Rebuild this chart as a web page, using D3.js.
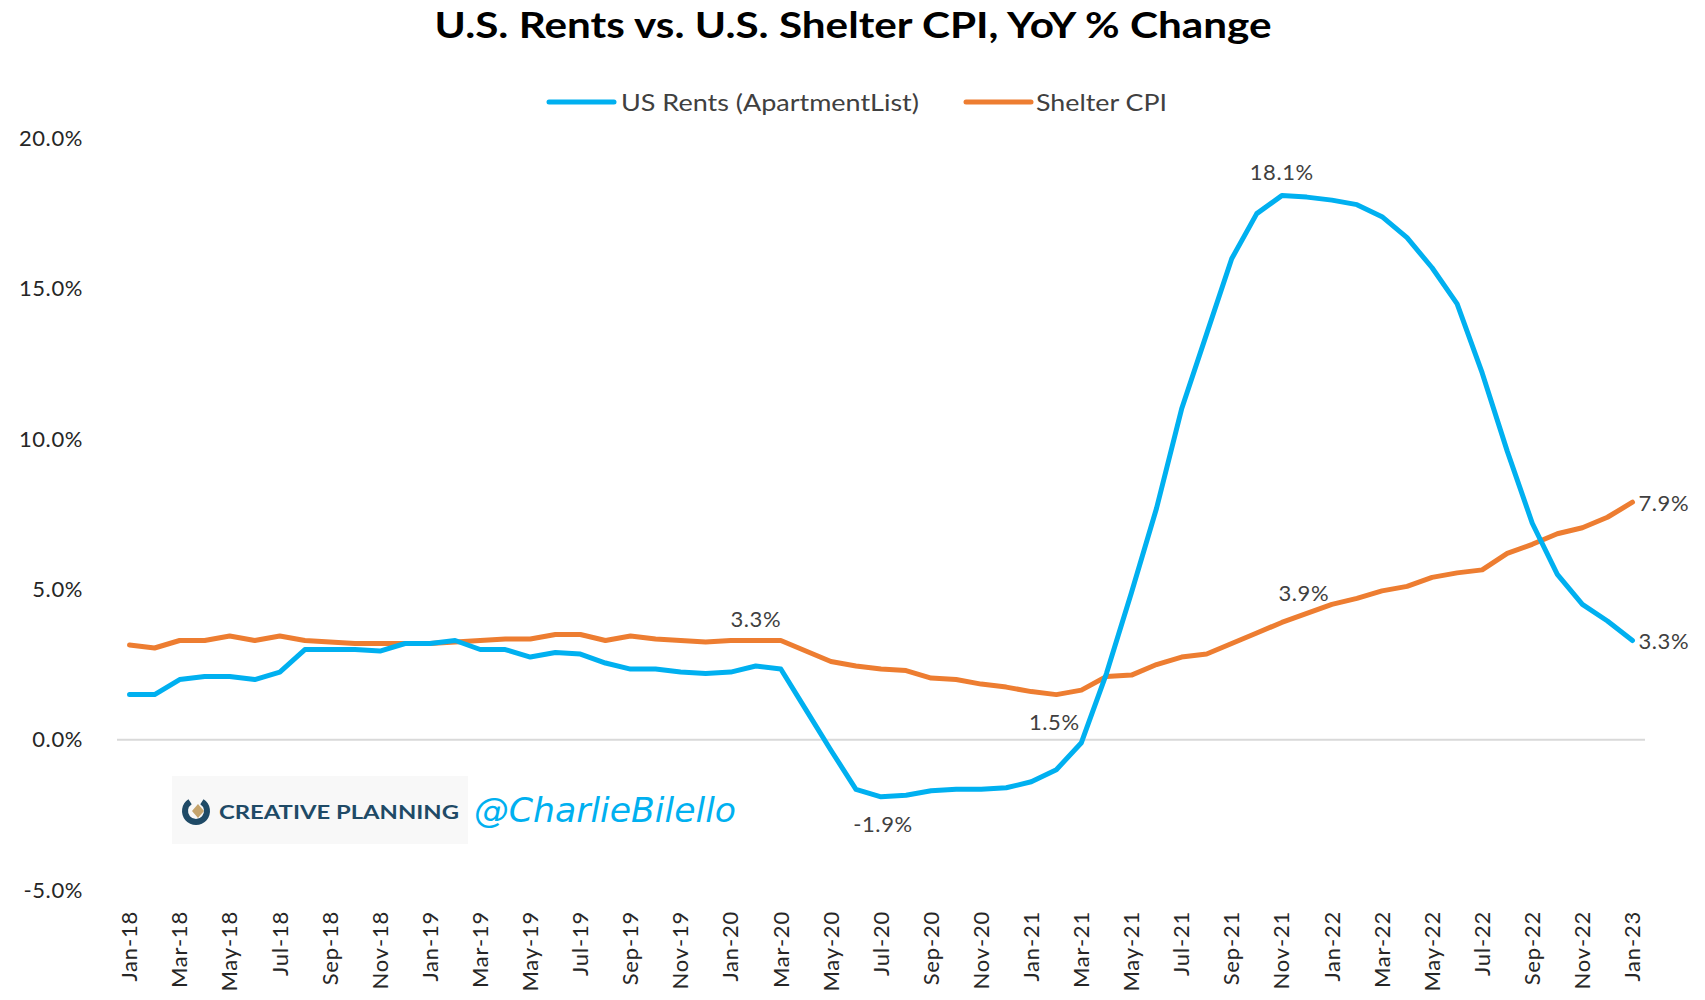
<!DOCTYPE html>
<html>
<head>
<meta charset="utf-8">
<script src="https://cdn.jsdelivr.net/npm/d3@7"></script>
<style>
  html, body { margin: 0; padding: 0; background: #fff; }
  svg { display: block; }
  text { font-family: Lato, "Open Sans", sans-serif; }
</style>
</head>
<body>
<div id="chart"></div>
<script>
/* ---- Data (YoY % change, monthly Jan-18 .. Jan-23) ---- */
const MONTHS = ['Jan','Feb','Mar','Apr','May','Jun','Jul','Aug','Sep','Oct','Nov','Dec'];
const DATES = [];
for (let yr = 18; yr <= 23; yr++) {
  MONTHS.forEach(m => { if (DATES.length < 61) DATES.push(m + '-' + yr); });
}

const RENTS = [
  1.5, 1.5, 2.0, 2.1, 2.1, 2.0, 2.25, 3.0, 3.0, 3.0, 2.95, 3.2,
  3.2, 3.3, 3.0, 3.0, 2.75, 2.9, 2.85, 2.55, 2.35, 2.35, 2.25, 2.2,
  2.25, 2.45, 2.35, 1.0, -0.35, -1.65, -1.9, -1.85, -1.7, -1.65, -1.65, -1.6,
  -1.4, -1.0, -0.1, 2.2, 4.9, 7.7, 11.0, 13.5, 16.0, 17.5, 18.1, 18.05,
  17.95, 17.8, 17.4, 16.7, 15.7, 14.5, 12.2, 9.6, 7.2, 5.5, 4.5, 3.95,
  3.3
];

const SHELTER = [
  3.15, 3.05, 3.3, 3.3, 3.45, 3.3, 3.45, 3.3, 3.25, 3.2, 3.2, 3.2,
  3.2, 3.25, 3.3, 3.35, 3.35, 3.5, 3.5, 3.3, 3.45, 3.35, 3.3, 3.25,
  3.3, 3.3, 3.3, 2.95, 2.6, 2.45, 2.35, 2.3, 2.05, 2.0, 1.85, 1.75,
  1.6, 1.5, 1.65, 2.1, 2.15, 2.5, 2.75, 2.85, 3.2, 3.55, 3.9, 4.2,
  4.5, 4.7, 4.95, 5.1, 5.4, 5.55, 5.65, 6.2, 6.5, 6.85, 7.05, 7.4,
  7.9
];

const Y_TICKS = [-5, 0, 5, 10, 15, 20];

const SERIES = [
  { name: 'US Rents (ApartmentList)', values: RENTS,   color: '#00b0f0' },
  { name: 'Shelter CPI',              values: SHELTER, color: '#ed7d31' }
];

// data labels: which point, and where the label sits relative to it
const LABELS = [
  { s: 0, i: 46, pos: 'above', dy: -4 },
  { s: 0, i: 30, pos: 'below', dx: 2 },
  { s: 0, i: 60, pos: 'right' },
  { s: 1, i: 25, pos: 'above', dy: -2 },
  { s: 1, i: 37, pos: 'below', dx: -2 },
  { s: 1, i: 46, pos: 'above', dx: 22, dy: -10 },
  { s: 1, i: 60, pos: 'right' }
];

/* ---- Layout ---- */
const W = 1705, H = 1000;
const PLOT = { left: 117, right: 1645, top: 138.5, bottom: 890 };

const svg = d3.select('#chart').append('svg')
  .attr('width', W).attr('height', H);

const x = d3.scaleBand().domain(DATES).range([PLOT.left, PLOT.right]).paddingInner(0);
const xc = d => x(d) + x.bandwidth() / 2;
const y = d3.scaleLinear().domain([-5, 20]).range([PLOT.bottom, PLOT.top]);
// plain hyphen for negatives, like the original
const pct = d3.formatLocale({ decimal: '.', thousands: ',', grouping: [3], currency: ['$', ''], minus: '-' })
  .format('.1f');

/* ---- Title ---- */
svg.append('text')
  .attr('x', 853).attr('y', 38)
  .attr('text-anchor', 'middle')
  .attr('textLength', 837).attr('lengthAdjust', 'spacingAndGlyphs')
  .style('font-size', '37px').style('font-weight', '700').style('fill', '#000')
  .text('U.S. Rents vs. U.S. Shelter CPI, YoY % Change');

/* ---- Legend ---- */
const legendPos = [{ x: 549, tx: 621, tw: 298 }, { x: 966, tx: 1036, tw: 131 }];
const legend = svg.append('g').attr('class', 'legend');
SERIES.forEach((s, k) => {
  const p = legendPos[k];
  legend.append('line')
    .attr('x1', p.x).attr('x2', p.x + 65)
    .attr('y1', 102).attr('y2', 102)
    .attr('stroke', s.color).attr('stroke-width', 5).attr('stroke-linecap', 'round');
  legend.append('text')
    .attr('x', p.tx).attr('y', 102)
    .attr('dominant-baseline', 'central')
    .attr('textLength', p.tw).attr('lengthAdjust', 'spacingAndGlyphs')
    .style('font-size', '23px').style('fill', '#404040')
    .text(s.name);
});

/* ---- Y axis (labels only) ---- */
const yAxis = d3.axisLeft(y).tickValues(Y_TICKS).tickSize(0).tickPadding(0)
  .tickFormat(d => pct(d) + '%');
svg.append('g')
  .attr('transform', `translate(${83},0)`)
  .call(yAxis)
  .call(g => g.select('.domain').remove())
  .call(g => g.selectAll('text')
    .style('font-size', '22px').style('fill', '#262626')
    .style('font-family', 'Lato, sans-serif').style('letter-spacing', '0.6px'));

/* ---- Zero line ---- */
svg.append('line')
  .attr('x1', PLOT.left).attr('x2', PLOT.right)
  .attr('y1', y(0)).attr('y2', y(0))
  .attr('stroke', '#d9d9d9').attr('stroke-width', 2);

/* ---- X axis (every second month) ---- */
const xAxis = d3.axisBottom(x)
  .tickValues(DATES.filter((d, i) => i % 2 === 0))
  .tickSize(0).tickPadding(0);
svg.append('g')
  .attr('transform', `translate(0,${911})`)
  .call(xAxis)
  .call(g => g.select('.domain').remove())
  .call(g => g.selectAll('text')
    .attr('transform', 'rotate(-90)')
    .attr('x', 0).attr('y', 0).attr('dy', '0.35em')
    .attr('text-anchor', 'end')
    .style('font-size', '22px').style('fill', '#262626')
    .style('font-family', 'Lato, sans-serif').style('letter-spacing', '0.8px'));

/* ---- Watermark ---- */
const wm = svg.append('g').attr('class', 'watermark');
wm.append('rect').attr('x', 172).attr('y', 776).attr('width', 296).attr('height', 68)
  .attr('fill', '#f8f8f8');
wm.append('path')
  .attr('d', d3.arc()({ innerRadius: 8, outerRadius: 14, startAngle: Math.PI * 0.18, endAngle: Math.PI * 1.82 }))
  .attr('transform', 'translate(196,811)')
  .attr('fill', '#1f4a66');
wm.append('path')
  .attr('d', 'M0,-7 L6,0 L0,7 L-6,0 Z')
  .attr('transform', 'translate(198,811)')
  .attr('fill', '#c5a46d');
wm.append('text')
  .attr('x', 219).attr('y', 811)
  .attr('dominant-baseline', 'central')
  .attr('textLength', 240).attr('lengthAdjust', 'spacingAndGlyphs')
  .style('font-size', '19px').style('font-weight', '700').style('fill', '#1f4a66')
  .text('CREATIVE PLANNING');
wm.append('text')
  .attr('x', 474).attr('y', 810)
  .attr('dominant-baseline', 'central')
  .attr('textLength', 262).attr('lengthAdjust', 'spacingAndGlyphs')
  .style('font-size', '34px').style('font-style', 'italic').style('fill', '#00b0f0')
  .style('font-family', '"DejaVu Sans", sans-serif')
  .text('@CharlieBilello');

/* ---- Lines ---- */
const line = d3.line()
  .x((v, i) => xc(DATES[i]))
  .y(v => y(v));

svg.append('g').attr('class', 'lines')
  .selectAll('path')
  .data(SERIES.slice().reverse())
  .join('path')
    .attr('d', s => line(s.values))
    .attr('fill', 'none')
    .attr('stroke', s => s.color)
    .attr('stroke-width', 5)
    .attr('stroke-linejoin', 'round')
    .attr('stroke-linecap', 'round');

/* ---- Data labels ---- */
svg.append('g').attr('class', 'data-labels')
  .selectAll('text')
  .data(LABELS)
  .join('text')
    .attr('x', d => {
      const px = xc(DATES[d.i]) + (d.dx || 0);
      return d.pos === 'right' ? px + 6 : px;
    })
    .attr('y', d => {
      const py = y(SERIES[d.s].values[d.i]) + (d.dy || 0);
      if (d.pos === 'above') return py - 20;
      if (d.pos === 'below') return py + 27;
      return py;
    })
    .attr('text-anchor', d => d.pos === 'right' ? 'start' : 'middle')
    .attr('dominant-baseline', 'central')
    .style('font-size', '22px').style('fill', '#404040')
    .style('letter-spacing', '0.6px')
    .text(d => pct(SERIES[d.s].values[d.i]) + '%');
</script>
</body>
</html>
